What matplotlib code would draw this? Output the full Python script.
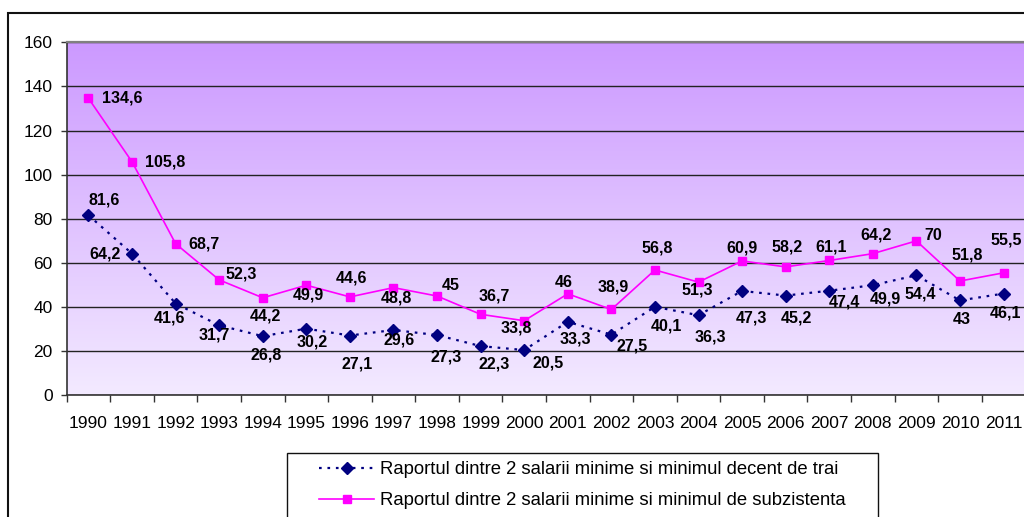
import numpy as np
import matplotlib.pyplot as plt
from matplotlib.patches import Rectangle

years = [str(y) for y in range(1990, 2012)]
decent = [81.6, 64.2, 41.6, 31.7, 26.8, 30.2, 27.1, 29.6, 27.3, 22.3, 20.5,
          33.3, 27.5, 40.1, 36.3, 47.3, 45.2, 47.4, 49.9, 54.4, 43.0, 46.1]
subzist = [134.6, 105.8, 68.7, 52.3, 44.2, 49.9, 44.6, 48.8, 45.0, 36.7, 33.8,
           46.0, 38.9, 56.8, 51.3, 60.9, 58.2, 61.1, 64.2, 70.0, 51.8, 55.5]
label_decent = "Raportul dintre 2 salarii minime si minimul decent de trai"
label_subzist = "Raportul dintre 2 salarii minime si minimul de subzistenta"

# label offsets in pixels (dx, dy downward) as placed in the original
off_decent = [(16, -15), (-27, 0), (-6, 14), (-5, 10), (3, 19), (6, 13), (7, 28),
              (6, 10), (9, 22), (13, 18), (24, 13), (8, 17), (21, 11), (12, 19),
              (12, 22), (9, 27), (11, 22), (15, 11), (13, 14), (4, 19), (2, 19),
              (2, 19)]
off_subzist = [(34, 0), (33, 0), (28, 0), (22, -6), (3, 18), (2, 10), (2, -19),
               (3, 10), (14, -11), (14, -18), (-8, 7), (-4, -11), (2, -22),
               (2, -22), (-1, 8), (0, -13), (1, -20), (2, -13), (3, -19),
               (17, -5), (7, -26), (3, -33)]


def fmt(v):
    s = f"{v:.1f}"
    if s.endswith(".0"):
        s = s[:-2]
    return s.replace(".", ",")


plt.rcParams["font.family"] = ["Liberation Sans", "DejaVu Sans"]

W, H = 1024, 517
fig = plt.figure(figsize=(W / 100, H / 100), dpi=100)
ax = fig.add_axes([66.7 / W, 1 - 395.3 / H, (1025.3 - 66.7) / W, (395.3 - 42.3) / H])

x = np.arange(len(years))
ax.set_xlim(-0.5, len(years) - 0.5)
ax.set_ylim(0, 160)

# purple gradient background
top = np.array([204, 153, 255]) / 255
bot = np.array([243, 234, 255]) / 255
t = np.linspace(0, 1, 256)[:, None]
grad = (top * (1 - t) + bot * t)[:, None, :]
ax.imshow(grad, extent=[0, 1, 0, 1], transform=ax.transAxes, aspect="auto",
          zorder=0, interpolation="bilinear")

ax.set_yticks(range(0, 161, 20))
ax.yaxis.grid(True, color="#222222", lw=1.0, zorder=1)
ax.set_axisbelow(True)

l1, = ax.plot(x, decent, color="#000080", lw=1.6, ls=(0, (1.2, 2.6)),
              marker="D", ms=6, zorder=3, label=label_decent)
l2, = ax.plot(x, subzist, color="#FF00FF", lw=1.2, marker="s", ms=6,
              zorder=4, label=label_subzist)

for xi, v, (dx, dy) in zip(x, decent, off_decent):
    ax.annotate(fmt(v), (xi, v), xytext=(dx, -dy), textcoords="offset pixels",
                ha="center", va="center", fontsize=11.5, fontweight="bold",
                zorder=5)
for xi, v, (dx, dy) in zip(x, subzist, off_subzist):
    ax.annotate(fmt(v), (xi, v), xytext=(dx, -dy), textcoords="offset pixels",
                ha="center", va="center", fontsize=11.5, fontweight="bold",
                zorder=5)

ax.set_xticks(np.arange(-0.5, len(years), 1.0))
ax.set_xticklabels([])
ax.set_xticks(x, minor=True)
ax.set_xticklabels(years, minor=True)
ax.tick_params(axis="x", which="major", length=5, color="#333333", width=1)
ax.tick_params(axis="x", which="minor", length=0, pad=15, labelsize=12.5)
ax.tick_params(axis="y", length=4, color="#333333", width=1, pad=6, labelsize=12.5)

for side in ["left", "bottom"]:
    ax.spines[side].set_color("#333333")
    ax.spines[side].set_linewidth(1.2)
ax.spines["top"].set_color("#808080")
ax.spines["top"].set_linewidth(1.6)
ax.spines["right"].set_visible(False)

# outer chart border
fig.patches.append(Rectangle((8 / W, -0.1), 1.2, 1 - 13 / H + 0.1,
                             transform=fig.transFigure, fill=False,
                             edgecolor="#111111", lw=1.5))
# legend box
fig.patches.append(Rectangle((287 / W, -0.1), (878 - 287) / W, 1 - 453 / H + 0.1,
                             transform=fig.transFigure, fill=False,
                             edgecolor="#111111", lw=1.0))

fig.legend(handles=[l1, l2], loc="upper left",
           bbox_to_anchor=(319 / W, 1 - 461 / H), frameon=False,
           fontsize=13.3, borderpad=0, borderaxespad=0, handlelength=3.0,
           handletextpad=0.3, labelspacing=0.78)

fig.savefig("out.png", dpi=100)
